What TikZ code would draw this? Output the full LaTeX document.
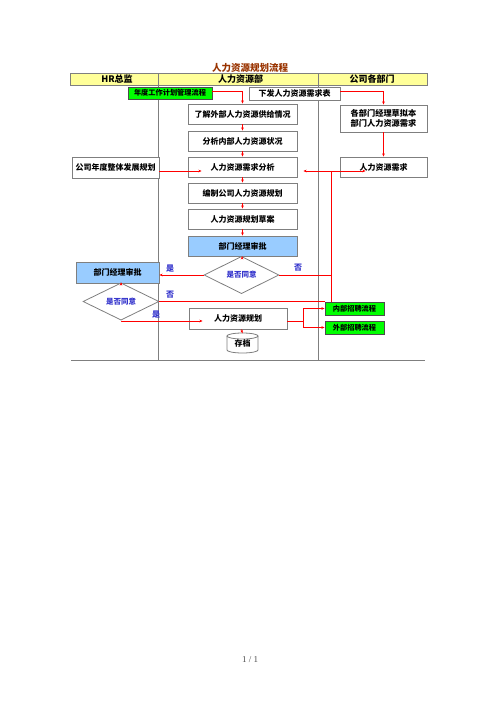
\documentclass[tikz,border=0pt]{standalone}
\usepackage{fontspec}
\setmainfont{Liberation Serif}
\newfontfamily\cjk{Noto Sans CJK SC}
\usetikzlibrary{shapes.geometric,arrows.meta}
\definecolor{hdryellow}{HTML}{FFFF99}
\definecolor{boxblue}{HTML}{99CCFF}
\definecolor{boxgreen}{HTML}{00FF00}
\definecolor{titlebrown}{HTML}{993300}
\definecolor{labblue}{HTML}{3333CC}
\definecolor{bordergray}{HTML}{7F7F7F}
\definecolor{linered}{HTML}{FF0000}
\tikzset{
  stepbox/.style={draw=bordergray, line width=0.8pt, fill=white, inner sep=0pt,
    font=\cjk\bfseries\fontsize{8}{10}\selectfont, align=center},
  bluebox/.style={stepbox, fill=boxblue},
  greenbox/.style={stepbox, draw=black!70, fill=boxgreen, font=\cjk\bfseries\fontsize{7.2}{9}\selectfont},
  decision/.style={diamond, draw=bordergray, line width=0.8pt, fill=white, inner sep=0pt,
    font=\cjk\bfseries\fontsize{7.5}{9}\selectfont, text=labblue},
  hdrtext/.style={font=\cjk\bfseries\fontsize{9}{11}\selectfont},
  redline/.style={draw=linered, line width=0.6pt},
  arr/.style={redline, -{Stealth[length=3.2pt,width=2.6pt]}},
  lab/.style={font=\cjk\bfseries\fontsize{8}{10}\selectfont, text=labblue},
  grid/.style={draw=bordergray, line width=0.8pt}
}
\begin{document}
\begin{tikzpicture}[x=1pt,y=-1pt]
\useasboundingbox (0,0) rectangle (500,707);
% title
\node[font=\cjk\bfseries\fontsize{9.5}{11}\selectfont, text=titlebrown] (title) at (250,67.5) {人力资源规划流程};
% header band and swimlanes
\path[grid, fill=hdryellow] (70,73.5) rectangle (427,85);
\draw[grid] (158.5,73.5) -- (158.5,360);
\draw[grid] (318.5,73.5) -- (318.5,360);
\draw[grid] (71,360) -- (425,360);
\node[hdrtext] (h1) at (117,79.5) {HR总监};
\node[hdrtext] (h2) at (240.5,79.5) {人力资源部};
\node[hdrtext] (h3) at (372,79.5) {公司各部门};
% nodes
\node[greenbox, minimum width=84, minimum height=12] (green1) at (170,93) {年度工作计划管理流程};
\node[stepbox, minimum width=91, minimum height=13] (xiafa) at (294.5,93.5) {下发人力资源需求表};
\node[stepbox, minimum width=109, minimum height=20] (n3) at (242.5,114) {了解外部人力资源供给情况};
\node[stepbox, minimum width=109, minimum height=20] (n4) at (242.5,141) {分析内部人力资源状况};
\node[stepbox, minimum width=109, minimum height=20] (n5) at (242.5,167) {人力资源需求分析};
\node[stepbox, minimum width=109, minimum height=20] (n6) at (242.5,193) {编制公司人力资源规划};
\node[stepbox, minimum width=109, minimum height=20] (n7) at (242.5,219) {人力资源规划草案};
\node[bluebox, minimum width=109, minimum height=20] (n8) at (242.5,246) {部门经理审批};
\node[decision, minimum width=75, minimum height=26] (d1) at (241.5,275) {是否同意};
\node[bluebox, minimum width=83, minimum height=21] (L1) at (117.5,272.5) {部门经理审批};
\node[decision, minimum width=76, minimum height=25] (d2) at (121,301.5) {是否同意};
\node[stepbox, minimum width=98, minimum height=21] (n9) at (238,318.5) {人力资源规划};
\node[greenbox, minimum width=59, minimum height=13] (g2) at (354.5,308.5) {内部招聘流程};
\node[greenbox, minimum width=59, minimum height=13] (g3) at (354.5,327.5) {外部招聘流程};
\node[stepbox, minimum width=87, minimum height=21] (L0) at (115.5,167.5) {公司年度整体发展规划};
\node[stepbox, minimum width=87, minimum height=27, font=\cjk\bfseries\fontsize{8.2}{10}\selectfont] (R1) at (383.5,118.5) {各部门经理草拟本\\部门人力资源需求};
\node[stepbox, minimum width=87, minimum height=20] (R2) at (383.5,167) {人力资源需求};
% cylinder (archive)
\fill[white] (227,336) -- (227,350) arc[start angle=180, end angle=360, x radius=15.5pt, y radius=3pt] -- (258,336) -- cycle;
\draw[grid] (242.5,336) ellipse [x radius=15.5pt, y radius=3pt];
\draw[grid] (227,336) -- (227,350) arc[start angle=180, end angle=360, x radius=15.5pt, y radius=3pt] -- (258,336);
\node[font=\cjk\bfseries\fontsize{8}{10}\selectfont, minimum width=31, minimum height=20, inner sep=0pt] (cyl) at (242.5,343.5) {存档};
% connectors
\draw[arr] ([yshift=2pt]green1.east) -| (n3.north);
\draw[arr] ([yshift=2pt]xiafa.east) -| (R1.north);
\draw[arr] (n3) -- (n4);
\draw[arr] (n4) -- (n5);
\draw[arr] (n5) -- (n6);
\draw[arr] (n6) -- (n7);
\draw[arr] (n7) -- (n8);
\draw[arr] (n8) -- (d1);
\draw[arr] (R1) -- (R2);
\draw[arr] ([yshift=-3.5pt]L0.east) -- ([xshift=14pt,yshift=-3.5pt]L0.east -| n5.west);
\draw[redline, {Stealth[length=3.2pt,width=2.6pt]}-{Stealth[length=3.2pt,width=2.6pt]}] ([xshift=6pt,yshift=-4pt]n5.east) -- ([xshift=26pt,yshift=-4pt]R2.west);
\coordinate (j1) at (331,171);
\coordinate (j2) at (331,302);
\draw[redline] (j1) -- (j2);
\draw[redline] (d1.east) -- (d1.east -| j1);
\draw[arr] (d1.west) -- (d1.west -| L1.east);
\draw[arr] (d2.north |- L1.south) -- (d2.north);
\draw[redline] (d2.east) -- (d2.east -| g2.west);
\draw[arr] (d2.south) |- ([xshift=14pt,yshift=-2.5pt]n9.west);
\draw[arr] (n9) -- (cyl.north);
\draw[arr] ([yshift=-2.5pt]n9.east) -- ++(16,0) |- (g2.west);
\draw[arr] ([xshift=16pt,yshift=-2.5pt]n9.east) |- (g3.west);
% labels
\node[lab] (l1) at (298,268) {否};
\node[lab] (l2) at (170,269) {是};
\node[lab] (l3) at (170,295) {否};
\node[lab] (l4) at (156,315) {是};
% footer
\node[font=\fontsize{9}{11}\selectfont, text=black!70] (foot) at (250,660) {1 / 1};
\end{tikzpicture}
\end{document}
